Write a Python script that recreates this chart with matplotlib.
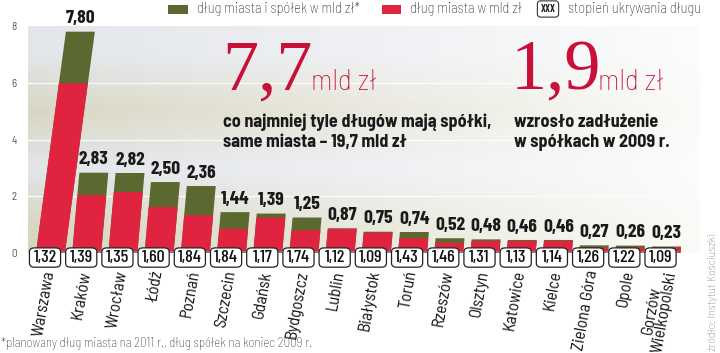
import numpy as np
import matplotlib
matplotlib.use("Agg")
import matplotlib.pyplot as plt
from matplotlib.patches import FancyBboxPatch, Rectangle
from matplotlib.transforms import Affine2D

# dane
miasta = ["Warszawa", "Kraków", "Wrocław", "Łódź", "Poznań", "Szczecin", "Gdańsk",
          "Bydgoszcz", "Lublin", "Białystok", "Toruń", "Rzeszów", "Olsztyn",
          "Katowice", "Kielce", "Zielona Góra", "Opole", "Gorzów\nWielkopolski"]
dlug_razem = [7.80, 2.83, 2.82, 2.50, 2.36, 1.44, 1.39, 1.25, 0.87, 0.75, 0.74,
              0.52, 0.48, 0.46, 0.46, 0.27, 0.26, 0.23]
dlug_miasta = [5.98, 2.04, 2.15, 1.62, 1.33, 0.85, 1.25, 0.80, 0.85, 0.72, 0.52,
               0.36, 0.42, 0.42, 0.43, 0.20, 0.20, 0.19]
ukrywanie = ["1,32", "1,39", "1,35", "1,60", "1,84", "1,84", "1,17", "1,74", "1,12",
             "1,09", "1,43", "1,46", "1,31", "1,13", "1,14", "1,26", "1,22", "1,09"]
yticks = [0, 2, 4, 6, 8]

GREEN = "#5b6930"
RED = "#e0243f"
CRIMSON = "#c8103a"
COND = ["Barlow Condensed", "DejaVu Sans"]
SEMI = ["Barlow Semi Condensed", "Barlow Condensed", "DejaVu Sans"]
SERIF = ["Liberation Serif", "DejaVu Serif"]

fig = plt.figure(figsize=(7.2, 3.53), dpi=100)
ax = fig.add_axes([28/720, 1-253/353, 672/720, 227/353])
xmin, xmax = -0.47, 18.09

# tlo - pasy zanikajace w prawo
band_cols = [(0.85, 0.84, 0.76), (0.89, 0.90, 0.92), (0.85, 0.84, 0.76), (0.89, 0.90, 0.92)]
n = 200
img = np.ones((4, n, 4))
fade = np.linspace(1.0, 0.12, n)
for r, c in enumerate(band_cols):
    img[r, :, :3] = c
    img[r, :, 3] = fade
ax.imshow(img, extent=(xmin, xmax, 0, 8), origin="lower", aspect="auto",
          interpolation="bilinear", zorder=0)
for y in [2, 4, 6]:
    ax.axhline(y, color="white", lw=1.0, alpha=0.8, zorder=0.5)

x = np.arange(len(miasta))
slant = [0.106] + [0.07] * (len(miasta) - 1)
b1 = ax.bar(x + 0.15, dlug_razem, width=0.8, color=GREEN, zorder=2)
b2 = ax.bar(x + 0.15, dlug_miasta, width=0.8, color=RED, zorder=3)
for p, q, k in zip(b1, b2, slant):
    t = Affine2D(np.array([[1, k, 0], [0, 1, 0], [0, 0, 1]])) + ax.transData
    p.set_transform(t)
    q.set_transform(t)

for i, v in enumerate(dlug_razem):
    ax.text(i + 0.15 + slant[i] * v, v + 0.15, f"{v:.2f}".replace(".", ","),
            ha="center", va="bottom", fontsize=14, fontweight="bold", family=COND,
            color="#1a1a1a", zorder=5)

ax.set_xlim(xmin, xmax)
ax.set_ylim(0, 8)

# linia zera i ramki
ax.plot([xmin + 0.2, xmax - 0.6], [0.03, 0.03], color="#888888", lw=1.2,
        zorder=3.5, clip_on=False)
for i, s in enumerate(ukrywanie):
    box = FancyBboxPatch((i - 0.43, -0.5), 0.86, 0.68,
                         boxstyle="round,pad=0,rounding_size=0.14",
                         fc="white", ec="#222222", lw=0.9,
                         zorder=4, clip_on=False)
    ax.add_patch(box)
    ax.text(i, -0.17, s, ha="center", va="center", fontsize=13, fontweight="medium",
            family=COND, color="#111111", zorder=5, clip_on=False)

for i, m in enumerate(miasta):
    ax.text(i + 0.12, -0.62, m, rotation=80, rotation_mode="anchor", ha="right",
            va="center", fontsize=12.2, family=SEMI, color="#111111",
            multialignment="center", linespacing=0.85, clip_on=False)

ax.set_yticks(yticks)
ax.set_yticklabels([str(t) for t in yticks], fontsize=8, color="#555555",
                   family=SEMI)
ax.tick_params(axis="y", length=0, pad=8)
ax.set_xticks([])
for s in ax.spines.values():
    s.set_visible(False)

# duze liczby
fig.text(222/720, 1-89/353, "7,7", fontsize=52, family=SERIF,
         color=CRIMSON, ha="left", va="baseline")
fig.text(311/720, 1-90/353, "mld zł", fontsize=21, fontweight="light", family=SEMI,
         color=CRIMSON, ha="left", va="baseline")
fig.text(223/720, 1-127/353, "co najmniej tyle długów mają spółki,", fontsize=13,
         fontweight="bold", family=SEMI, color="#1a1a1a", ha="left", va="baseline")
fig.text(223/720, 1-147/353, "same miasta – 19,7 mld zł", fontsize=13,
         fontweight="bold", family=SEMI, color="#1a1a1a", ha="left", va="baseline")
fig.text(511/720, 1-89/353, "1,9", fontsize=52, family=SERIF,
         color=CRIMSON, ha="left", va="baseline")
fig.text(598/720, 1-90/353, "mld zł", fontsize=21, fontweight="light", family=SEMI,
         color=CRIMSON, ha="left", va="baseline")
fig.text(514/720, 1-127/353, "wzrosło zadłużenie", fontsize=13,
         fontweight="bold", family=SEMI, color="#1a1a1a", ha="left", va="baseline")
fig.text(514/720, 1-147/353, "w spółkach w 2009 r.", fontsize=13,
         fontweight="bold", family=SEMI, color="#1a1a1a", ha="left", va="baseline")

# legenda
fig.patches.append(Rectangle((168/720, 1-14/353), 20/720, 9/353, transform=fig.transFigure,
                             fc=GREEN, ec="none"))
fig.text(197/720, 1-9/353, "dług miasta i spółek w mld zł*", fontsize=10.5,
         fontweight="light", family=SEMI, color="#222222", ha="left", va="center")
fig.patches.append(Rectangle((382/720, 1-14/353), 19/720, 9/353, transform=fig.transFigure,
                             fc=RED, ec="none"))
fig.text(410/720, 1-9/353, "dług miasta w mld zł", fontsize=10.5,
         fontweight="light", family=SEMI, color="#222222", ha="left", va="center")
fig.text(548/720, 1-9/353, "XXX", fontsize=7.5, fontweight="bold", family=COND,
         color="#222222", ha="center", va="center",
         bbox=dict(boxstyle="round,pad=0.3", fc="white", ec="#333333", lw=0.8))
fig.text(568/720, 1-9/353, "stopień ukrywania długu", fontsize=10.5,
         fontweight="light", family=SEMI, color="#222222", ha="left", va="center")

fig.text(1/720, 1-344/353, "*planowany dług miasta na 2011 r., dług spółek na koniec 2009 r.",
         fontsize=9.3, fontweight="light", family=SEMI, color="#333333", ha="left",
         va="center")
fig.text(713/720, 1-351/353, "źródło: Instytut Kościuszki", rotation=90, fontsize=8.5,
         fontweight="light", family=SEMI, color="#777777", ha="center", va="bottom")

fig.savefig("out.png", dpi=100)
